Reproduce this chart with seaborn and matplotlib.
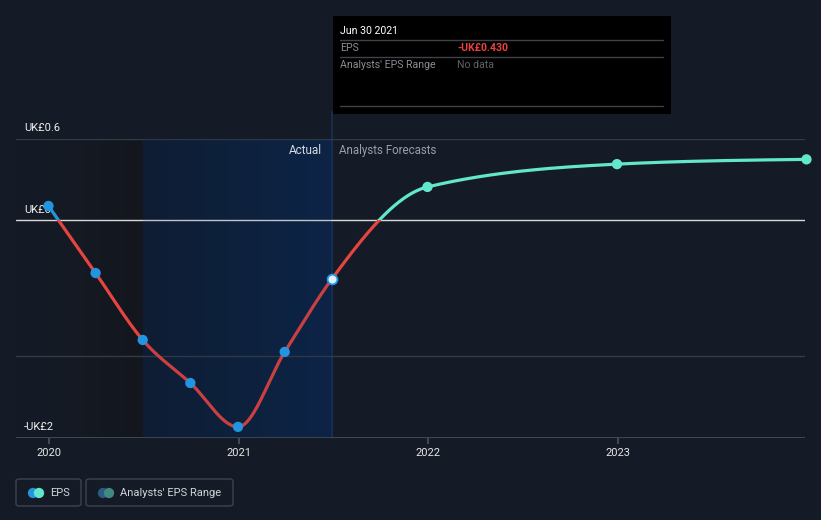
import numpy as np
import pandas as pd
import matplotlib
matplotlib.use("Agg")
import matplotlib.pyplot as plt
from matplotlib.patches import Rectangle, FancyBboxPatch
import seaborn as sns

# ---------------- data ----------------
actual_dates = ["2019-12-31", "2020-03-31", "2020-06-30", "2020-09-30",
                "2020-12-31", "2021-03-31", "2021-06-30"]
actual_eps = [0.107, -0.387, -0.88, -1.197, -1.52, -0.968, -0.430]
forecast_dates = ["2021-06-30", "2021-12-31", "2022-12-31", "2023-12-31"]
forecast_eps = [-0.430, 0.247, 0.415, 0.450]
year_ticks = [2020, 2021, 2022, 2023]
y_tick_values = [0.6, 0.0, -1.6]
y_tick_labels = ["UK£0.6", "UK£0", "-UK£2"]
grid_values = [0.6, -1.0]


def frac_year(s):
    d = pd.Timestamp(s)
    start = pd.Timestamp(year=d.year, month=1, day=1)
    end = pd.Timestamp(year=d.year + 1, month=1, day=1)
    return d.year + (d - start) / (end - start)


ax_x = np.array([frac_year(d) for d in actual_dates])
fc_x = np.array([frac_year(d) for d in forecast_dates])
ax_y = np.array(actual_eps)
fc_y = np.array(forecast_eps)


def monotone_curve(x, y, n=60):
    x = np.asarray(x, float); y = np.asarray(y, float)
    h = np.diff(x); d = np.diff(y) / h
    m = np.zeros(len(x))
    for i in range(1, len(x) - 1):
        s0, s1 = d[i - 1], d[i]
        p = (s0 * h[i] + s1 * h[i - 1]) / (h[i - 1] + h[i])
        m[i] = (np.sign(s0) + np.sign(s1)) * min(abs(s0), abs(s1), 0.5 * abs(p))
    if len(x) > 2:
        m[0] = (3 * d[0] - m[1]) / 2
        m[-1] = (3 * d[-1] - m[-2]) / 2
    else:
        m[0] = m[-1] = d[0]
    xs, ys = [], []
    for i in range(len(x) - 1):
        t = np.linspace(0, 1, n, endpoint=(i == len(x) - 2))
        h00 = 2 * t**3 - 3 * t**2 + 1
        h10 = t**3 - 2 * t**2 + t
        h01 = -2 * t**3 + 3 * t**2
        h11 = t**3 - t**2
        xs.append(x[i] + t * h[i])
        ys.append(h00 * y[i] + h10 * h[i] * m[i] + h01 * y[i + 1] + h11 * h[i] * m[i + 1])
    return np.concatenate(xs), np.concatenate(ys)


all_x = np.concatenate([ax_x, fc_x[1:]])
all_y = np.concatenate([ax_y, fc_y[1:]])
cx, cy = monotone_curve(all_x, all_y)

# ---------------- style ----------------
BG = "#151b26"
sns.set_theme(style="dark")
plt.rcParams["font.family"] = ["Roboto", "DejaVu Sans"]

fig = plt.figure(figsize=(8.21, 5.20), dpi=100)
fig.patch.set_facecolor(BG)
W, H = 821, 520
ax_left, ax_right, ax_top, ax_bot = 16, 805, 139, 438
ax = fig.add_axes([ax_left / W, 1 - ax_bot / H, (ax_right - ax_left) / W, (ax_bot - ax_top) / H])
ax.set_facecolor(BG)
for s in ax.spines.values():
    s.set_visible(False)

xmin = 2020 + (ax_left - 49) / 189.5
xmax = 2020 + (ax_right - 49) / 189.5
ymax, ymin = 0.6, -1.602
ax.set_xlim(xmin, xmax)
ax.set_ylim(ymin, ymax)

# shaded regions (gradients)
x_split = frac_year("2020-06-30")
x_now = frac_year("2021-06-30")
a0 = np.array([0x15, 0x1b, 0x26]) / 255.0
a1 = np.array([0x13, 0x16, 0x1d]) / 255.0
t = np.linspace(0, 1, 100)[None, :, None]
ax.imshow(a0 + (t ** 1.5) * (a1 - a0), extent=[xmin, x_split, ymin, ymax], aspect="auto",
          zorder=0.5, interpolation="bilinear")
c0 = np.array([0x10, 0x1c, 0x2f]) / 255.0
c1 = np.array([0x0c, 0x24, 0x45]) / 255.0
ax.imshow(c0 + t * (c1 - c0), extent=[x_split, x_now, ymin, ymax], aspect="auto",
          zorder=0.6, interpolation="bilinear")
ax.axvline(x_now, ymin=0, ymax=1.09, color="#173257", lw=1.2, zorder=1, clip_on=False)

# gridlines
for gv in grid_values:
    ax.axhline(gv, color="#343a46", lw=1, zorder=1)
ax.axhline(0, color="#d9d9d9", lw=1, zorder=2)
ax.axhline(ymin, color="#4a505c", lw=1.2, zorder=2)

# curve coloured by sign
RED = "#e5443f"
BLUE = "#2394df"
CYAN = "#62e6cc"
below = Rectangle((xmin, ymin), xmax - xmin, -ymin, transform=ax.transData)
l_red, = ax.plot(cx, cy, color=RED, lw=2.3, zorder=3, solid_capstyle="round")
l_red.set_clip_path(below)
above_a = Rectangle((xmin, 0), x_now - xmin, 5, transform=ax.transData)
l_blue, = ax.plot(cx, cy, color=BLUE, lw=2.3, zorder=3)
l_blue.set_clip_path(above_a)
above_f = Rectangle((x_now, 0), xmax - x_now + 1, 5, transform=ax.transData)
l_cyan, = ax.plot(cx, cy, color=CYAN, lw=2.3, zorder=3)
l_cyan.set_clip_path(above_f)
# slight tint of the curve inside the shaded "actual" band
ax.add_patch(Rectangle((x_split, ymin), x_now - x_split, ymax - ymin, facecolor="#0d2a55",
                       alpha=0.12, edgecolor="none", zorder=3.5))

# markers
df_a = pd.DataFrame({"x": ax_x[:-1], "y": ax_y[:-1]})
sns.scatterplot(data=df_a, x="x", y="y", ax=ax, color=BLUE, s=55, edgecolor="none", zorder=4)
df_last = pd.DataFrame({"x": ax_x[-1:], "y": ax_y[-1:]})
sns.scatterplot(data=df_last, x="x", y="y", ax=ax, color="#dff0ff", s=50, edgecolor=BLUE,
                linewidth=1.3, zorder=5)
df_f = pd.DataFrame({"x": fc_x[1:], "y": fc_y[1:]})
sns.scatterplot(data=df_f, x="x", y="y", ax=ax, color=CYAN, s=55, edgecolor="none", zorder=4,
                clip_on=False)
ax.set_xlabel(""); ax.set_ylabel("")

# ticks
ax.set_xticks(year_ticks)
ax.set_xticklabels([str(y) for y in year_ticks], color="#e6e6e6", fontsize=8)
ax.tick_params(axis="x", length=4, color="#4a505c", pad=3, bottom=True)
ax.set_yticks([])

# y labels above lines
ylab_tr = ax.get_yaxis_transform()
for v, lab in zip(y_tick_values, y_tick_labels):
    ax.annotate(lab, xy=(0.01, v), xycoords=ylab_tr, xytext=(0, 4), textcoords="offset points",
                color="#eeeeee", fontsize=8, ha="left", va="bottom", zorder=2.5,
                annotation_clip=False)
ax.text(x_now - 0.05, 0.6 - 0.04, "Actual", color="#f2f2f2", fontsize=8.5, ha="right", va="top")
ax.text(x_now + 0.035, 0.6 - 0.04, "Analysts Forecasts", color="#9a9ea6", fontsize=8.3,
        ha="left", va="top")

# tooltip box
def px(x, y):
    return x / W, 1 - y / H

fig.patches.append(Rectangle(px(333, 114), (671 - 333) / W, (114 - 16) / H, transform=fig.transFigure,
                             facecolor="#000000", edgecolor="none", zorder=10))
for yy in (40, 57, 106):
    fig.add_artist(plt.Line2D([340 / W, 663 / W], [1 - yy / H] * 2, color="#3f4248", lw=1, zorder=11))
fig.text(*px(340, 31), "Jun 30 2021", color="#ffffff", fontsize=7.6, va="center", zorder=12)
fig.text(*px(340, 48), "EPS", color="#8a8d93", fontsize=7.6, va="center", zorder=12)
fig.text(*px(457, 48), "-UK£0.430", color="#e8413f", fontsize=7.6, va="center", fontweight="bold", zorder=12)
fig.text(*px(340, 65), "Analysts' EPS Range", color="#8a8d93", fontsize=7.6, va="center", zorder=12)
fig.text(*px(457, 65), "No data", color="#5f6268", fontsize=7.6, va="center", zorder=12)

# legend
def legend_box(x0, x1, label, tx):
    box = FancyBboxPatch(px(x0, 506), (x1 - x0) / W, 27 / H, boxstyle="round,pad=0,rounding_size=0.004",
                         transform=fig.transFigure, facecolor="none", edgecolor="#3c4350", lw=1)
    fig.patches.append(box)
    fig.text(*px(tx, 493), label, color="#d2d4d8", fontsize=8, va="center")

legend_box(16, 81, "EPS", 50)
legend_box(86, 233, "Analysts' EPS Range", 120)
lax = fig.add_axes([0, 0, 1, 1], facecolor="none")
lax.axis("off")
sns.scatterplot(x=[33, 39, 103, 109], y=[493] * 4, hue=["a", "b", "c", "d"],
                palette=[BLUE, CYAN, "#2a5b80", "#3f8a82"], s=55, edgecolor="none",
                legend=False, ax=lax)
lax.set_xlim(0, W); lax.set_ylim(H, 0)

fig.savefig("out.png", dpi=100, facecolor=BG)
